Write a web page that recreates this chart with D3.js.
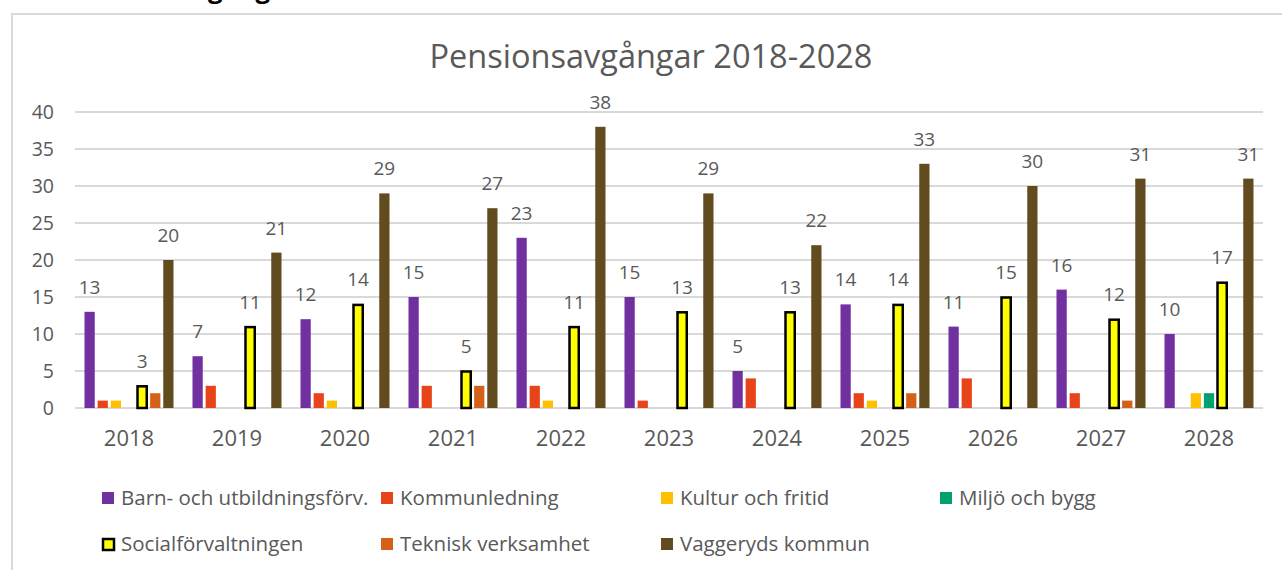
<meta charset="utf-8">
<script src="https://cdnjs.cloudflare.com/ajax/libs/d3/7.8.5/d3.min.js"></script>
<style>
body { margin:0; background:white; overflow:hidden; }
text { font-family: "Open Sans", sans-serif; }
</style>
<body>
<div id="rootElement"></div>
<script>

var years = ['2018','2019','2020','2021','2022','2023','2024','2025','2026','2027','2028'];
var seriesNames = ['Barn- och utbildningsförv.','Kommunledning','Kultur och fritid','Miljö och bygg',
                   'Socialförvaltningen','Teknisk verksamhet','Vaggeryds kommun'];
var barn     = [13, 7, 12, 15, 23, 15, 5, 14, 11, 16, 10];
var kommun   = [1, 3, 2, 3, 3, 1, 4, 2, 4, 2, 0];
var kultur   = [1, 0, 1, 0, 1, 0, 0, 1, 0, 0, 2];
var miljo    = [0, 0, 0, 0, 0, 0, 0, 0, 0, 0, 2];
var social   = [3, 11, 14, 5, 11, 13, 13, 14, 15, 12, 17];
var teknisk  = [2, 0, 0, 3, 0, 0, 0, 2, 0, 1, 0];
var vaggeryd = [20, 21, 29, 27, 38, 29, 22, 33, 30, 31, 31];
var yTicks = [0, 5, 10, 15, 20, 25, 30, 35, 40];

var allValues = [barn, kommun, kultur, miljo, social, teknisk, vaggeryd];
var colors = ['#7030A0','#E8441A','#FFC000','#00A070','#FFFF00','#D5601A','#614B1F'];
var labelled = [true, false, false, false, true, false, true];

var width = 1282, height = 570;
var svg = d3.select('#rootElement').append('svg')
    .attr('width', width)
    .attr('height', height);

// outer chart frame (cut by window on right and bottom)
svg.append('rect')
    .attr('x', 12).attr('y', 14)
    .attr('width', 1300).attr('height', 600)
    .attr('fill', 'white')
    .attr('stroke', '#d9d9d9')
    .attr('stroke-width', 2);

// heading above frame, mostly cut off
var head = svg.append('text')
    .attr('y', -2)
    .style('font-weight', 'bold')
    .style('font-size', '26px')
    .attr('fill', '#000')
    .text('Pensionsavgångar');
var gx = head.node().getStartPositionOfChar(10).x;
head.attr('x', 208 - gx);

svg.append('text')
    .attr('x', 651).attr('y', 68)
    .attr('text-anchor', 'middle')
    .attr('fill', '#595959')
    .style('font-size', '32.5px')
    .text('Pensionsavgångar 2018-2028');

var x0 = d3.scaleBand().domain(years).range([75, 1263]);
var x1 = d3.scaleBand().domain(d3.range(7)).range([9.5, 98.5]).paddingInner(0.22);
var y = d3.scaleLinear().domain([0, 40]).range([408, 112]);

// gridlines
svg.append('g').selectAll('line')
    .data(yTicks)
    .enter().append('line')
    .attr('x1', 75).attr('x2', 1263)
    .attr('y1', function(d) { return y(d); })
    .attr('y2', function(d) { return y(d); })
    .attr('stroke', '#d9d9d9')
    .attr('stroke-width', 2);

var yAxis = svg.append('g')
    .attr('transform', 'translate(54,0)')
    .call(d3.axisLeft(y).tickValues(yTicks).tickSize(0).tickPadding(0));
yAxis.select('.domain').remove();
yAxis.selectAll('text')
    .attr('fill', '#595959')
    .style('font-size', '19.5px')
    .style('font-family', '"Open Sans", sans-serif');

var xAxis = svg.append('g')
    .attr('transform', 'translate(0,408)')
    .call(d3.axisBottom(x0).tickSize(0).tickPadding(22));
xAxis.select('.domain').remove();
xAxis.selectAll('text')
    .attr('fill', '#595959')
    .style('font-size', '22px')
    .style('font-family', '"Open Sans", sans-serif');

// bars
var groups = svg.append('g').selectAll('g')
    .data(years)
    .enter().append('g')
    .attr('transform', function(d) { return 'translate(' + x0(d) + ',0)'; });

groups.each(function(year, yi) {
    var g = d3.select(this);
    allValues.forEach(function(vals, si) {
        var v = vals[yi];
        if (v <= 0) return;
        var bx = x1(si), bw = x1.bandwidth();
        var r = g.append('rect')
            .attr('x', bx).attr('width', bw)
            .attr('y', y(v)).attr('height', y(0) - y(v))
            .attr('fill', colors[si]);
        if (si === 4) {
            r.attr('x', bx + 0.5).attr('width', bw - 1)
             .attr('y', y(v) + 0.5).attr('height', y(0) - y(v) - 0.5)
             .attr('stroke', '#000').attr('stroke-width', 2.5);
        }
        if (labelled[si]) {
            g.append('text')
                .attr('x', bx + bw / 2)
                .attr('y', y(v) - 18)
                .attr('text-anchor', 'middle')
                .attr('fill', '#595959')
                .style('font-size', '19px')
                .text(v);
        }
    });
});

// legend
var legendPos = [[102, 498], [381, 498], [661, 498], [940, 498],
                 [102, 544], [381, 544], [661, 544]];
var legend = svg.append('g').selectAll('g')
    .data(seriesNames)
    .enter().append('g')
    .attr('transform', function(d, i) { return 'translate(' + legendPos[i][0] + ',' + legendPos[i][1] + ')'; });

legend.append('rect')
    .attr('x', function(d, i) { return i === 4 ? 1 : 0; })
    .attr('y', function(d, i) { return i === 4 ? -5 : -6; })
    .attr('width', function(d, i) { return i === 4 ? 11 : 12; })
    .attr('height', function(d, i) { return i === 4 ? 11 : 12; })
    .attr('fill', function(d, i) { return colors[i]; })
    .attr('stroke', function(d, i) { return i === 4 ? '#000' : 'none'; })
    .attr('stroke-width', 2.5);

legend.append('text')
    .attr('x', 19)
    .attr('y', 7)
    .attr('fill', '#595959')
    .style('font-size', '20.5px')
    .text(function(d) { return d; });

</script>
</body>
